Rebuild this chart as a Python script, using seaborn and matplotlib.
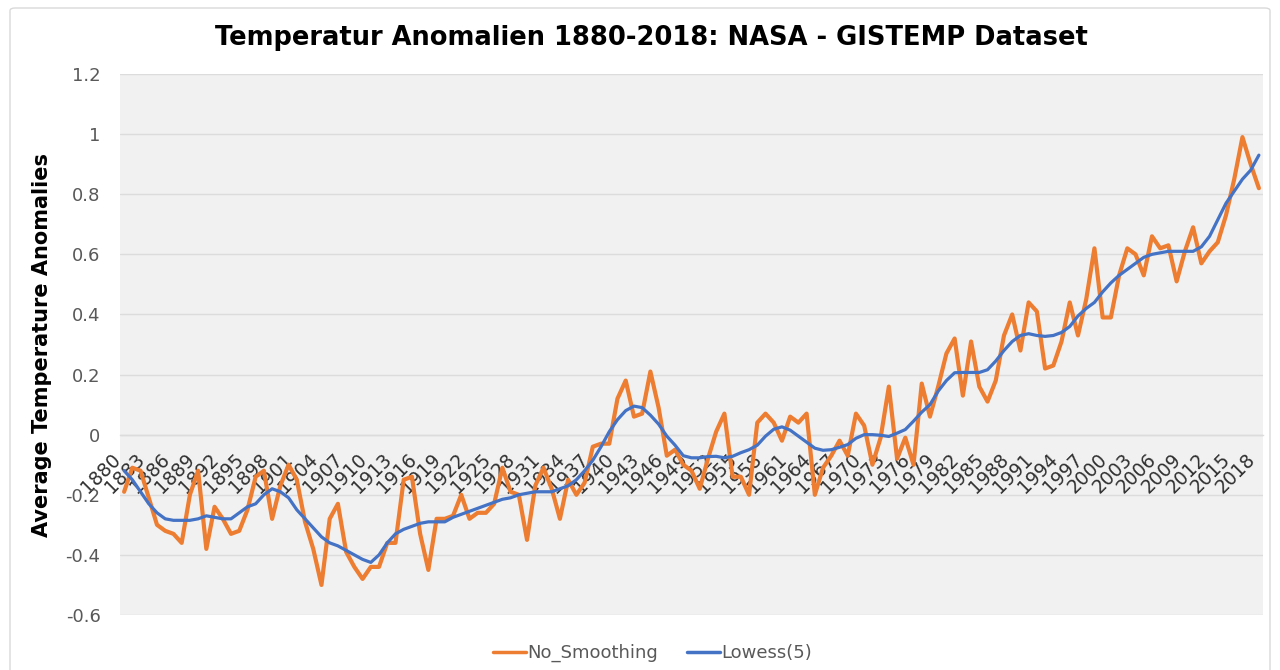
import numpy as np
import pandas as pd
import matplotlib
matplotlib.use("Agg")
import matplotlib.pyplot as plt
import seaborn as sns
from matplotlib.lines import Line2D
from matplotlib.patches import FancyBboxPatch

years = list(range(1880, 2019))

no_smoothing = [
    -0.19, -0.11, -0.12, -0.21, -0.30, -0.32, -0.33, -0.36, -0.20, -0.12,   # 1880-1889
    -0.38, -0.24, -0.28, -0.33, -0.32, -0.25, -0.14, -0.12, -0.28, -0.17,   # 1890-1899
    -0.10, -0.15, -0.29, -0.38, -0.50, -0.28, -0.23, -0.39, -0.44, -0.48,   # 1900-1909
    -0.44, -0.44, -0.36, -0.36, -0.15, -0.14, -0.33, -0.45, -0.28, -0.28,   # 1910-1919
    -0.27, -0.20, -0.28, -0.26, -0.26, -0.23, -0.11, -0.19, -0.20, -0.35,   # 1920-1929
    -0.17, -0.11, -0.18, -0.28, -0.15, -0.20, -0.16, -0.04, -0.03, -0.03,   # 1930-1939
    0.12, 0.18, 0.06, 0.07, 0.21, 0.09, -0.07, -0.05, -0.10, -0.12,         # 1940-1949
    -0.18, -0.08, 0.01, 0.07, -0.14, -0.14, -0.20, 0.04, 0.07, 0.04,        # 1950-1959
    -0.02, 0.06, 0.04, 0.07, -0.20, -0.11, -0.07, -0.02, -0.07, 0.07,       # 1960-1969
    0.03, -0.10, -0.01, 0.16, -0.08, -0.01, -0.10, 0.17, 0.06, 0.16,        # 1970-1979
    0.27, 0.32, 0.13, 0.31, 0.16, 0.11, 0.18, 0.33, 0.40, 0.28,             # 1980-1989
    0.44, 0.41, 0.22, 0.23, 0.31, 0.44, 0.33, 0.45, 0.62, 0.39,             # 1990-1999
    0.39, 0.53, 0.62, 0.60, 0.53, 0.66, 0.62, 0.63, 0.51, 0.61,             # 2000-2009
    0.69, 0.57, 0.61, 0.64, 0.73, 0.85, 0.99, 0.90, 0.82,                   # 2010-2018
]

lowess_5 = [
    -0.12, -0.15, -0.19, -0.23, -0.26, -0.28, -0.285, -0.285, -0.285, -0.28,   # 1880-1889
    -0.27, -0.275, -0.28, -0.28, -0.26, -0.24, -0.23, -0.20, -0.18, -0.19,     # 1890-1899
    -0.21, -0.25, -0.28, -0.31, -0.34, -0.36, -0.37, -0.385, -0.40, -0.415,    # 1900-1909
    -0.425, -0.40, -0.36, -0.33, -0.315, -0.305, -0.295, -0.29, -0.29, -0.29,  # 1910-1919
    -0.275, -0.265, -0.255, -0.245, -0.235, -0.225, -0.215, -0.21, -0.20, -0.195,  # 1920-1929
    -0.19, -0.19, -0.19, -0.18, -0.17, -0.15, -0.12, -0.085, -0.04, 0.01,     # 1930-1939
    0.05, 0.08, 0.095, 0.09, 0.065, 0.035, -0.005, -0.035, -0.07, -0.077,     # 1940-1949
    -0.077, -0.073, -0.072, -0.077, -0.072, -0.06, -0.05, -0.035, -0.005, 0.018,  # 1950-1959
    0.026, 0.015, -0.005, -0.025, -0.045, -0.052, -0.05, -0.042, -0.033, -0.012,  # 1960-1969
    0.0, 0.0, -0.002, -0.006, 0.005, 0.017, 0.045, 0.075, 0.10, 0.145,        # 1970-1979
    0.18, 0.206, 0.207, 0.207, 0.207, 0.216, 0.245, 0.28, 0.31, 0.33,         # 1980-1989
    0.336, 0.33, 0.327, 0.33, 0.34, 0.36, 0.395, 0.42, 0.44, 0.475,           # 1990-1999
    0.505, 0.53, 0.55, 0.57, 0.59, 0.60, 0.605, 0.61, 0.61, 0.61,             # 2000-2009
    0.61, 0.625, 0.66, 0.715, 0.77, 0.81, 0.85, 0.88, 0.93,                   # 2010-2018
]

series_names = ["No_Smoothing", "Lowess(5)"]
series_colors = ["#ED7D31", "#4472C4"]
y_ticks = [-0.6, -0.4, -0.2, 0, 0.2, 0.4, 0.6, 0.8, 1, 1.2]
y_tick_labels = ["-0.6", "-0.4", "-0.2", "0", "0.2", "0.4", "0.6", "0.8", "1", "1.2"]
x_tick_years = years[::3]

title = "Temperatur Anomalien 1880-2018: NASA - GISTEMP Dataset"
y_label = "Average Temperature Anomalies"

df = pd.DataFrame({
    "Year": years * 2,
    "Value": no_smoothing + lowess_5,
    "Series": [series_names[0]] * len(years) + [series_names[1]] * len(years),
})

sns.set_theme(style="white")
FONT = "DejaVu Sans"
plt.rcParams["font.family"] = [FONT]
plt.rcParams["font.sans-serif"] = [FONT]

fig = plt.figure(figsize=(12.8, 6.7), dpi=100)
fig.patch.set_facecolor("white")
ax = fig.add_axes([120 / 1280, 1 - 615 / 670, (1263 - 120) / 1280, (615 - 74) / 670])
ax.set_facecolor("#f1f1f1")

sns.lineplot(data=df, x="Year", y="Value", hue="Series", palette=series_colors,
             hue_order=series_names, ax=ax, legend=False, sort=False)
lines = ax.get_lines()
lines[0].set_linewidth(3.0)
lines[0].set_zorder(3)
lines[1].set_linewidth(2.3)
lines[1].set_zorder(4)
for ln in lines:
    ln.set_solid_joinstyle("round")
    ln.set_solid_capstyle("round")

ax.set_xlim(1879.5, 2018.5)
ax.set_ylim(-0.6, 1.2)
ax.set_yticks(y_ticks)
ax.set_yticklabels(y_tick_labels, fontfamily=FONT)
ax.yaxis.grid(True, color="#dcdcdc", linewidth=1.0)
ax.xaxis.grid(False)
ax.set_axisbelow(True)

for s in ["top", "right", "left"]:
    ax.spines[s].set_visible(False)
ax.spines["bottom"].set_position(("data", 0))
ax.spines["bottom"].set_color("#dcdcdc")
ax.spines["bottom"].set_linewidth(1.0)
ax.spines["bottom"].set_zorder(1)

ax.set_xticks(x_tick_years)
ax.set_xticklabels([str(y) for y in x_tick_years], rotation=45, ha="right", va="top",
                   fontsize=13.5, color="#303030", fontfamily=FONT)
ax.tick_params(axis="x", length=0, pad=11)
ax.tick_params(axis="y", length=0, pad=14, labelsize=13, labelcolor="#595959")
ax.set_xlabel("")
ax.set_ylabel("")

fig.text(0.509, 1 - 38 / 670, title, ha="center", va="center",
         fontsize=18.5, fontweight="bold", color="#000000", fontfamily=FONT)
fig.text(42 / 1280, 1 - 345 / 670, y_label, ha="center", va="center",
         rotation=90, fontsize=15, fontweight="bold", color="#000000", fontfamily=FONT)

handles = [Line2D([0], [0], color=c, lw=2.5) for c in series_colors]
fig.legend(handles, series_names, loc="center", bbox_to_anchor=(0.51, 1 - 653 / 670),
           ncol=2, frameon=False, prop={"family": FONT, "size": 13}, labelcolor="#595959",
           handlelength=1.8, handletextpad=0.1, columnspacing=1.6)

border = FancyBboxPatch((10 / 1280, -0.02), 1260 / 1280, 1 - 8 / 670 + 0.02,
                        boxstyle="round,pad=0,rounding_size=0.004",
                        transform=fig.transFigure, fill=False,
                        edgecolor="#d9d9d9", linewidth=1.0)
fig.patches.append(border)

fig.savefig("out.png", dpi=100)
